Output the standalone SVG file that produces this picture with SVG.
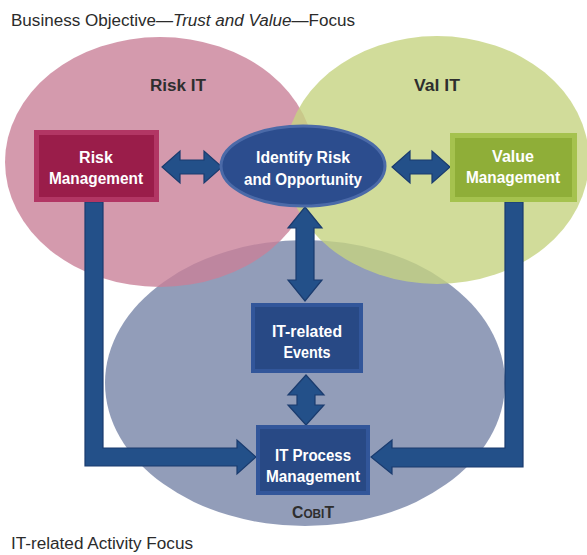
<svg xmlns="http://www.w3.org/2000/svg" width="587" height="555" viewBox="0 0 587 555">
<style>
.lbl{font-family:"Liberation Sans",Arial,sans-serif;font-size:16px;fill:#2b2b2b}
.ttl{font-family:"Liberation Sans",Arial,sans-serif;font-size:16px;font-weight:bold;fill:#2e2e2e;text-anchor:middle}
.nt{font-family:"Liberation Sans",Arial,sans-serif;font-size:16px;font-weight:bold;fill:#ffffff;text-anchor:middle}
.arr{fill:#235089;stroke:#1a3b6e;stroke-width:1.2}
.circ{opacity:0.8}
</style>
<rect width="587" height="555" fill="#ffffff"/>
<text class="lbl" x="11" y="26" textLength="344" lengthAdjust="spacingAndGlyphs">Business Objective—<tspan font-style="italic">Trust and Value</tspan>—Focus</text>
<text class="lbl" x="11" y="549" textLength="182" lengthAdjust="spacingAndGlyphs">IT-related Activity Focus</text>
<g id="circles">
<ellipse id="cobit-circle" class="circ" cx="305" cy="383" rx="200" ry="143" fill="#7785a7"/>
<ellipse id="riskit-circle" class="circ" cx="160" cy="162" rx="155" ry="125" fill="#c98199"/>
<ellipse id="valit-circle" class="circ" cx="437" cy="160" rx="152" ry="124" fill="#c6d381"/>
</g>
<text class="ttl" x="178" y="91" textLength="56" lengthAdjust="spacingAndGlyphs">Risk IT</text>
<text class="ttl" x="437" y="91" textLength="46" lengthAdjust="spacingAndGlyphs">Val IT</text>
<text class="ttl" x="313" y="518" textLength="42" lengthAdjust="spacingAndGlyphs">C<tspan font-size="12">OBI</tspan>T</text>
<g id="connectors">
<path class="arr" d="M162,167 L180,151 L180,160 L204,160 L204,151 L222,167 L204,183 L204,174 L180,174 L180,183 Z"/>
<path class="arr" d="M392,167 L410,151 L410,160 L432,160 L432,151 L450,167 L432,183 L432,174 L410,174 L410,183 Z"/>
<path class="arr" d="M305,207 L322,228 L314,228 L314,280 L322,280 L305,301 L288,280 L296,280 L296,228 L288,228 Z"/>
<path class="arr" d="M306,375 L324,395 L315,395 L315,405 L324,405 L306,425 L288,405 L297,405 L297,395 L288,395 Z"/>
<path class="arr" d="M85,202 L103,202 L103,448 L237,448 L237,440 L256,457 L237,474 L237,466 L85,466 Z"/>
<path class="arr" d="M505,202 L523,202 L523,467 L392,467 L392,474 L371,457 L392,440 L392,448 L505,448 Z"/>
</g>
<g id="risk-management">
<rect x="34" y="130" width="125" height="72" fill="#b23664"/>
<rect x="39" y="135" width="115" height="62" fill="#9a1d4a"/>
<text class="nt" x="96" y="163">Risk</text>
<text class="nt" x="96" y="184" textLength="94" lengthAdjust="spacingAndGlyphs">Management</text>
</g>
<g id="identify-risk">
<ellipse cx="303" cy="166" rx="82" ry="40" fill="#2c4d8e" stroke="#4b6aa8" stroke-width="3"/>
<text class="nt" x="303" y="163" textLength="94" lengthAdjust="spacingAndGlyphs">Identify Risk</text>
<text class="nt" x="303" y="185" textLength="118" lengthAdjust="spacingAndGlyphs">and Opportunity</text>
</g>
<g id="value-management">
<rect x="450" y="133" width="127" height="69" fill="#a5c24e"/>
<rect x="455" y="138" width="117" height="59" fill="#8fae38"/>
<text class="nt" x="513" y="162">Value</text>
<text class="nt" x="513" y="183" textLength="94" lengthAdjust="spacingAndGlyphs">Management</text>
</g>
<g id="it-related-events">
<rect x="251" y="303" width="112" height="70" fill="#32569a"/>
<rect x="255" y="307" width="104" height="62" fill="#284985"/>
<text class="nt" x="307" y="337" textLength="70" lengthAdjust="spacingAndGlyphs">IT-related</text>
<text class="nt" x="307" y="358" textLength="47" lengthAdjust="spacingAndGlyphs">Events</text>
</g>
<g id="it-process-management">
<rect x="256" y="425" width="114" height="70" fill="#32569a"/>
<rect x="260" y="429" width="106" height="62" fill="#284985"/>
<text class="nt" x="313" y="461" textLength="76" lengthAdjust="spacingAndGlyphs">IT Process</text>
<text class="nt" x="313" y="482" textLength="94" lengthAdjust="spacingAndGlyphs">Management</text>
</g>
</svg>
